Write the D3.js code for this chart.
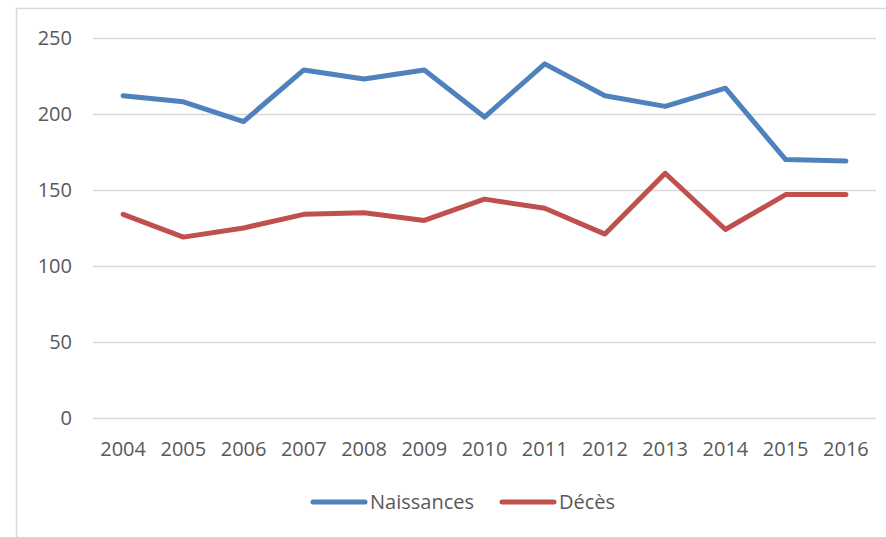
<!DOCTYPE html>
<html>
<head>
<meta charset="utf-8">
<script src="https://cdn.jsdelivr.net/npm/d3@7"></script>
<style>
  body { margin: 0; background: #fff; }
  text { font-family: "Open Sans", sans-serif; fill: #595959; }
</style>
</head>
<body>
<script>
// données
var annees = ["2004","2005","2006","2007","2008","2009","2010","2011","2012","2013","2014","2015","2016"];
var naissances = [212, 208, 195, 229, 223, 229, 198, 233, 212, 205, 217, 170, 169];
var deces = [134, 119, 125, 134, 135, 130, 144, 138, 121, 161, 124, 147, 147];
var yTicks = [0, 50, 100, 150, 200, 250];

var W = 886, H = 537;
var margin = {top: 38, right: 10, bottom: 119, left: 93},
  width = 876 - margin.left,
  height = 418 - margin.top;

var svg = d3.select("body").append("svg")
  .attr("width", W)
  .attr("height", H);

// cadre du graphique
svg.append("rect")
  .attr("x", 16.5).attr("y", 8.5)
  .attr("width", 900).attr("height", 600)
  .attr("fill", "none")
  .attr("stroke", "#d9d9d9")
  .attr("stroke-width", 1.5);

var g = svg.append("g")
  .attr("transform", "translate(" + margin.left + "," + margin.top + ")");

var x = d3.scaleBand().domain(annees).range([0, width]);
var y = d3.scaleLinear().domain([0, 250]).range([height, 0]);

// grille
g.append("g")
  .call(d3.axisLeft(y).tickValues(yTicks).tickSize(-width).tickPadding(21).tickFormat(d3.format("d")))
  .call(function(a) {
    a.select(".domain").remove();
    a.selectAll(".tick line").attr("stroke", "#d9d9d9").attr("stroke-width", 1.5);
    a.selectAll(".tick text").style("font-size", "20px").attr("fill", "#595959");
  });

// axe x
g.append("g")
  .attr("transform", "translate(0," + height + ")")
  .call(d3.axisBottom(x).tickSize(0).tickPadding(24))
  .call(function(a) {
    a.select(".domain").remove();
    a.selectAll(".tick text").style("font-size", "20px").attr("fill", "#595959");
  });

var line = d3.line()
  .x(function(d, i) { return x(annees[i]) + x.bandwidth() / 2; })
  .y(function(d) { return y(d); });

var series = [
  {nom: "Naissances", valeurs: naissances, couleur: "#4f81bd"},
  {nom: "Décès", valeurs: deces, couleur: "#c0504d"}
];

g.selectAll(".serie").data(series).enter().append("path")
  .attr("class", "serie")
  .attr("d", function(s) { return line(s.valeurs); })
  .attr("fill", "none")
  .attr("stroke", function(s) { return s.couleur; })
  .attr("stroke-width", 5)
  .attr("stroke-linejoin", "round")
  .attr("stroke-linecap", "round");

// légende
var legX = [313, 502];
var leg = svg.selectAll(".leg").data(series).enter().append("g")
  .attr("class", "leg")
  .attr("transform", function(s, i) { return "translate(" + legX[i] + ",502)"; });
leg.append("line")
  .attr("x1", 0).attr("x2", 52)
  .attr("stroke", function(s) { return s.couleur; })
  .attr("stroke-width", 5)
  .attr("stroke-linecap", "round");
leg.append("text")
  .attr("x", 57).attr("dy", "0.35em")
  .style("font-size", "20px")
  .text(function(s) { return s.nom; });
</script>
</body>
</html>
